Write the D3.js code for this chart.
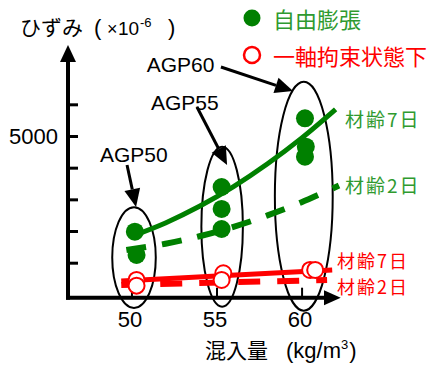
<!DOCTYPE html>
<html><head><meta charset="utf-8">
<script src="https://cdn.jsdelivr.net/npm/d3@7"></script>
<style>
html,body{margin:0;padding:0;background:#fff;}
svg{display:block;}
</style></head>
<body>
<svg id="chart" width="431" height="365"></svg>
<script>
// ---------- data ----------
const dosages = [50, 55, 60];                      // 混入量 (kg/m3)
const yTicks = [1000, 2000, 3000, 4000, 5000, 6000];
const yTickLabels = ["", "", "", "", "5000", ""];
const groupLabels = ["AGP50", "AGP55", "AGP60"];

// 自由膨張 (filled green) : measured x and strain per group
const freeX = [[50.2, 50.3], [55.3, 55.3, 55.3], [60.2, 60.25, 60.2]];
const freeY = [[1979, 1244], [3390, 2696, 2064], [5559, 4662, 4347]];
// 一軸拘束状態下 (open red)
const resX = [[50.3, 50.3], [55.4, 55.3], [60.5, 60.8]];
const resY = [[455, 275], [666, 455], [770, 770]];

// fitted trend lines
const free7X = [49.9, 52, 54, 56, 58, 60, 62];
const free7Y = [1811, 2256, 2780, 3402, 4122, 4933, 5842];
const free2X = [49.7, 52, 54, 56, 58, 60, 62.2];
const free2Y = [1401, 1600, 1836, 2133, 2493, 2909, 3437];
const res7X = [49.4, 55, 61.8];
const res7Y = [423, 581, 770];
const res2X = [49.4, 61.5];
const res2Y = [297, 455];

// group ellipses (centre x, top, bottom, half-width in x units)
const ellX = [50.15, 55.33, 60.13];
const ellTop = [2752, 4662, 6714];
const ellBottom = [-429, -388, -515];
const ellHalfW = [1.28, 1.22, 1.7];

// annotation text / arrow anchors (data units)
const annTextX = [48.15, 51.15, 50.9];
const annTextY = [4188, 5820, 7019];
const annFromX = [49.74, 53.85, 55.26];
const annFromY = [4084, 5914, 7177];
const annToX = [50.27, 55.62, 59.5];
const annToY = [2758, 4084, 6420];

const seriesLabels = ["材齢7日", "材齢2日", "材齢7日", "材齢2日"];
const seriesLabelX = [62.55, 62.55, 62.08, 62.08];
const seriesLabelY = [5567, 3484, 1070, 250];

// ---------- drawing ----------
const GREEN = "#008000", GREEN_TXT = "#2f9a2f", RED = "#ff0000";
const LATIN = "'Liberation Sans', Arial, sans-serif";
const CJK = "'Noto Sans CJK JP', sans-serif";

const svg = d3.select("#chart");
const x = d3.scaleLinear().domain([46.27, 62.3]).range([68, 340.7]);
const y = d3.scaleLinear().domain([-105, 7800]).range([297.7, 47.3]);

const x0 = x(46.27), y0 = y(-105);

// ellipses
const gEll = svg.append("g");
dosages.forEach((d, i) => {
  const cy = (y(ellTop[i]) + y(ellBottom[i])) / 2;
  const ry = (y(ellBottom[i]) - y(ellTop[i])) / 2;
  const rx = x(ellX[i] + ellHalfW[i]) - x(ellX[i]);
  gEll.append("ellipse").attr("cx", x(ellX[i])).attr("cy", cy)
    .attr("rx", rx).attr("ry", ry)
    .attr("fill", "none").attr("stroke", "#000").attr("stroke-width", 2);
});

// axes
const yAxis = d3.axisLeft(y).tickValues(yTicks).tickSizeInner(-10).tickSizeOuter(0)
  .tickPadding(10).tickFormat((d, i) => yTickLabels[i]);
const gy = svg.append("g").attr("transform", `translate(${x0},0)`).call(yAxis);
gy.select(".domain").remove();
gy.selectAll(".tick line").attr("stroke", "#000").attr("stroke-width", 3);
gy.selectAll(".tick text").attr("font-family", LATIN).attr("font-size", 22).attr("fill", "#000");

const xAxis = d3.axisBottom(x).tickValues(dosages).tickSizeInner(-10).tickSizeOuter(0)
  .tickPadding(14).tickFormat(d3.format("d"));
const gx = svg.append("g").attr("transform", `translate(0,${y0})`).call(xAxis);
gx.select(".domain").remove();
gx.selectAll(".tick line").attr("stroke", "#000").attr("stroke-width", 2);
gx.selectAll(".tick text").attr("font-family", LATIN).attr("font-size", 22).attr("fill", "#000").attr("dx", -2);

// axis lines with arrows
svg.append("line").attr("x1", x0).attr("y1", y0 + 2).attr("x2", x0).attr("y2", 58)
  .attr("stroke", "#000").attr("stroke-width", 4);
svg.append("path").attr("d", `M${x0},45 L${x0 - 8},62 L${x0 + 8},62 Z`).attr("fill", "#000");
svg.append("line").attr("x1", x0 - 2).attr("y1", y0).attr("x2", 328).attr("y2", y0)
  .attr("stroke", "#000").attr("stroke-width", 4);
svg.append("path").attr("d", `M340.7,${y0} L324,${y0 - 7.5} L324,${y0 + 7.5} Z`).attr("fill", "#000");

// trend lines
const line = d3.line().x(d => x(d[0])).y(d => y(d[1])).curve(d3.curveCatmullRom);
const zip = (a, b) => a.map((v, i) => [v, b[i]]);
svg.append("path").attr("d", line(zip(free7X, free7Y))).attr("fill", "none")
  .attr("stroke", GREEN).attr("stroke-width", 5);
svg.append("path").attr("d", line(zip(free2X, free2Y))).attr("fill", "none")
  .attr("stroke", GREEN).attr("stroke-width", 6).attr("stroke-dasharray", "20,16");
svg.append("path").attr("d", line(zip(res7X, res7Y))).attr("fill", "none")
  .attr("stroke", RED).attr("stroke-width", 5);
svg.append("path").attr("d", line(zip(res2X, res2Y))).attr("fill", "none")
  .attr("stroke", RED).attr("stroke-width", 6).attr("stroke-dasharray", "22,17");

// points
dosages.forEach((d, i) => {
  freeX[i].forEach((xv, j) => {
    svg.append("circle").attr("cx", x(xv)).attr("cy", y(freeY[i][j])).attr("r", 9)
      .attr("fill", GREEN);
  });
});
dosages.forEach((d, i) => {
  resX[i].forEach((xv, j) => {
    svg.append("circle").attr("cx", x(xv)).attr("cy", y(resY[i][j])).attr("r", 8)
      .attr("fill", "#fff").attr("stroke", RED).attr("stroke-width", 2);
  });
});

// annotations
groupLabels.forEach((t, i) => {
  svg.append("text").attr("x", x(annTextX[i])).attr("y", y(annTextY[i]))
    .attr("font-family", LATIN).attr("font-size", 21).attr("fill", "#000").text(t);
  const x1 = x(annFromX[i]), y1 = y(annFromY[i]), x2 = x(annToX[i]), y2 = y(annToY[i]);
  const ang = Math.atan2(y2 - y1, x2 - x1);
  const L = 18, W = 8;
  const bx = x2 - L * Math.cos(ang), by = y2 - L * Math.sin(ang);
  svg.append("line").attr("x1", x1).attr("y1", y1).attr("x2", bx).attr("y2", by)
    .attr("stroke", "#000").attr("stroke-width", 3);
  const px = -Math.sin(ang) * W, py = Math.cos(ang) * W;
  svg.append("path").attr("d", `M${x2},${y2} L${bx + px},${by + py} L${bx - px},${by - py} Z`)
    .attr("fill", "#000");
});

// series labels
seriesLabels.forEach((t, i) => {
  svg.append("text").attr("x", x(seriesLabelX[i])).attr("y", y(seriesLabelY[i]))
    .attr("dominant-baseline", "central")
    .attr("font-family", CJK).attr("font-size", i < 2 ? 19 : 18).attr("letter-spacing", 2)
    .attr("fill", i < 2 ? GREEN_TXT : RED).text(t);
});

// legend
svg.append("circle").attr("cx", 252).attr("cy", 18).attr("r", 8.5).attr("fill", GREEN);
svg.append("text").attr("x", 273).attr("y", 18).attr("dominant-baseline", "central")
  .attr("font-family", CJK).attr("font-size", 22).attr("fill", GREEN_TXT).text("自由膨張");
svg.append("circle").attr("cx", 252).attr("cy", 55).attr("r", 8).attr("fill", "#fff")
  .attr("stroke", RED).attr("stroke-width", 2.5);
svg.append("text").attr("x", 273).attr("y", 55).attr("dominant-baseline", "central")
  .attr("font-family", CJK).attr("font-size", 22).attr("fill", RED).text("一軸拘束状態下");

// y title
const yt = svg.append("text").attr("x", 20).attr("y", 35).attr("fill", "#000");
yt.append("tspan").attr("font-family", CJK).attr("font-size", 21).text("ひずみ");
yt.append("tspan").attr("x", 94).attr("font-family", LATIN).attr("font-size", 22).text("(");
yt.append("tspan").attr("x", 107).attr("font-family", LATIN).attr("font-size", 18).text("×");
yt.append("tspan").attr("x", 118).attr("font-family", LATIN).attr("font-size", 19).text("10");
yt.append("tspan").attr("x", 140).attr("dy", -8).attr("font-family", LATIN).attr("font-size", 13).text("-6");
yt.append("tspan").attr("x", 168).attr("dy", 8).attr("font-family", LATIN).attr("font-size", 22).text(")");

// x title
const xt = svg.append("text").attr("x", 205).attr("y", 358).attr("fill", "#000");
xt.append("tspan").attr("font-family", CJK).attr("font-size", 21).text("混入量");
xt.append("tspan").attr("x", 286).attr("font-family", LATIN).attr("font-size", 22).text("(kg/m");
xt.append("tspan").attr("dy", -9).attr("font-family", LATIN).attr("font-size", 13).text("3");
xt.append("tspan").attr("dy", 9).attr("dx", 1).attr("font-family", LATIN).attr("font-size", 22).text(")");
</script>
</body></html>
